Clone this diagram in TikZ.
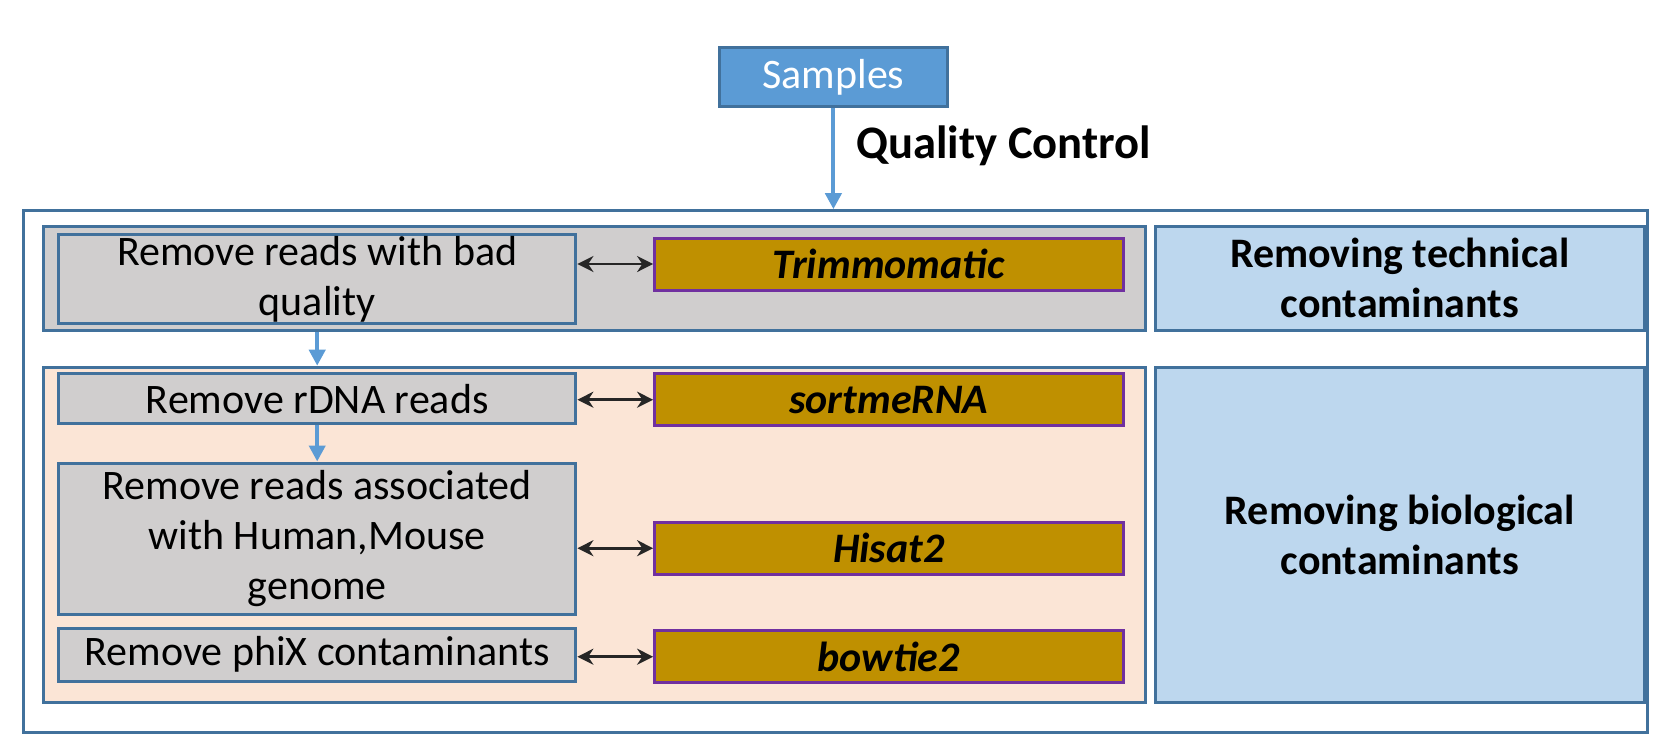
\documentclass[tikz,border=0pt]{standalone}
\usepackage{fontspec}
\setmainfont{Carlito}
\usepackage{tikz}
\usetikzlibrary{arrows.meta, positioning}
\definecolor{Frameblue}{RGB}{65,113,156}
\definecolor{Sampfill}{RGB}{91,155,213}
\definecolor{Grayfill}{RGB}{208,206,206}
\definecolor{Peachfill}{RGB}{251,229,214}
\definecolor{Toolfill}{RGB}{191,144,0}
\definecolor{Toolline}{RGB}{112,48,160}
\definecolor{Sidefill}{RGB}{189,215,238}
\newcommand\boxfont{\fontsize{21}{25}\selectfont}

\begin{document}
\begin{tikzpicture}[
  x=0.5pt, y=-0.5pt,
  src/.style={
    rectangle, draw=Frameblue, line width=1.5pt,
    fill=Sampfill, text=white, font=\boxfont,
    minimum width=114pt, minimum height=29.25pt, inner sep=0pt
  },
  grp/.style={
    rectangle, draw=Frameblue, line width=1.5pt,
    minimum width=550.9pt, inner sep=0pt
  },
  side/.style={
    rectangle, draw=Frameblue, line width=1.5pt,
    fill=Sidefill, font=\boxfont\bfseries, align=center,
    minimum width=244.8pt, inner sep=0pt
  },
  proc/.style={
    rectangle, draw=Frameblue, line width=1.5pt,
    fill=Grayfill, font=\boxfont, align=center,
    minimum width=258.7pt, inner sep=0pt
  },
  tool/.style={
    rectangle, draw=Toolline, line width=1.5pt,
    fill=Toolfill, font=\boxfont\bfseries\itshape,
    minimum width=234.2pt, minimum height=26pt, inner sep=0pt
  },
  arr/.style={-{Triangle[length=8pt,width=8pt]}, line width=2pt, Sampfill},
  dblarr/.style={{Stealth[length=8pt,width=8pt]}-{Stealth[length=8pt,width=8pt]},
    line width=1.4pt, black!85},
  lbl/.style={font=\fontsize{23.3}{28}\selectfont\bfseries, inner sep=0pt}
]
\useasboundingbox (0,0) rectangle (1669,745);

%% ── Marco exterior y grupos ────────────────────────────────────────────────
\node[rectangle, draw=Frameblue, line width=1.5pt, minimum width=812.2pt,
      minimum height=260.8pt, inner sep=0pt] (frame) at (835.5,471.5) {};
\node[grp, fill=Grayfill,  minimum height=51.7pt]  (topgrp) at (594.5,278.4) {};
\node[grp, fill=Peachfill, minimum height=167.7pt] (botgrp) at (594.5,534.9) {};
\node[side, minimum height=51.7pt]  (tech) at (1399.8,278.4) {Removing technical\\contaminants};
\node[side, minimum height=167.7pt] (bio)  at (1399.8,534.9) {Removing biological\\contaminants};

%% ── Entrada ────────────────────────────────────────────────────────────────
\node[src] (samples) at (833.4,77) {Samples};
\node[lbl, anchor=west] (qc) at (856,146) {Quality Control};

%% ── Pasos (izquierda) ──────────────────────────────────────────────────────
\node[proc, minimum height=44.8pt] (bad)   at (317.2,278.8) {Remove reads with bad\\quality};
\node[proc, minimum height=25pt]   (rdna)  at (317.2,398.6) {Remove rDNA reads};
\node[proc, minimum height=75.6pt] (host)  at (317.2,538.6) {Remove reads associated\\with Human,Mouse\\genome};
\node[proc, minimum height=26.6pt] (phix)  at (317.2,654.6) {Remove phiX contaminants};

%% ── Herramientas (derecha) ─────────────────────────────────────────────────
\node[tool] (trim)  at (888.8,264)   {Trimmomatic};
\node[tool] (sort)  at (888.8,399.7) {sortmeRNA};
\node[tool] (hisat) at (888.8,548.2) {Hisat2};
\node[tool] (bowt)  at (888.8,656.7) {bowtie2};

%% ── Flechas ────────────────────────────────────────────────────────────────
\draw[arr] (samples.south) -- (samples.south |- frame.north);
\draw[arr] (bad.south |- topgrp.south) -- (bad.south |- botgrp.north);
\draw[arr] (rdna.south) -- (host.north);

\draw[dblarr] (trim.west -| bad.east)   -- (trim.west);
\draw[dblarr] (sort.west -| rdna.east)  -- (sort.west);
\draw[dblarr] (hisat.west -| host.east) -- (hisat.west);
\draw[dblarr] (bowt.west -| phix.east)  -- (bowt.west);

\end{tikzpicture}
\end{document}
